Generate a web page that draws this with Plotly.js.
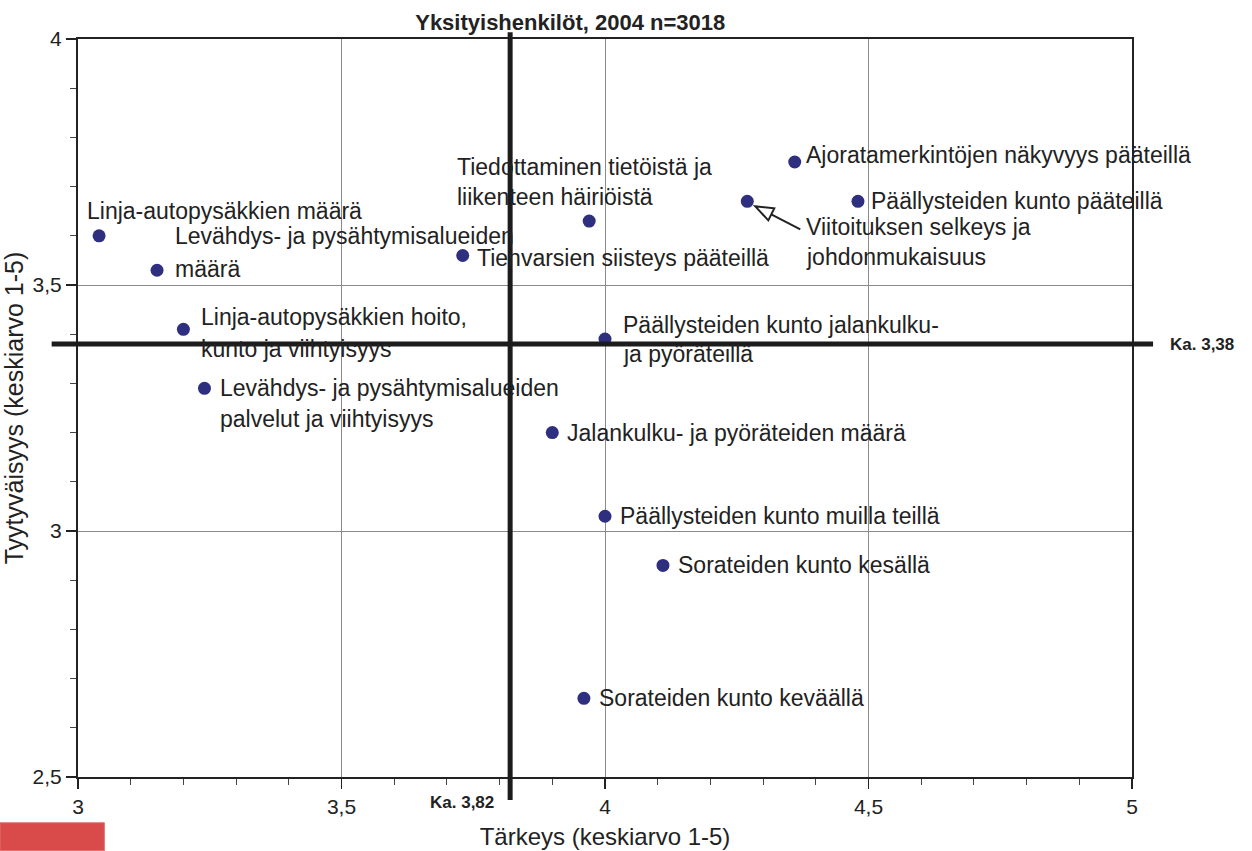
<!DOCTYPE html>
<html>
<head>
<meta charset="utf-8">
<script src="https://cdn.plot.ly/plotly-3.0.1.min.js"></script>
<style>
html,body{margin:0;padding:0;background:#fff;}
#chart{width:1252px;height:851px;}
</style>
</head>
<body>
<div id="chart"></div>
<script>
// ---- data ----
const itemLabels = [
  "Linja-autopysäkkien määrä",
  "Levähdys- ja pysähtymisalueiden\nmäärä",
  "Tienvarsien siisteys pääteillä",
  "Tiedottaminen tietöistä ja\nliikenteen häiriöistä",
  "Ajoratamerkintöjen näkyvyys pääteillä",
  "Viitoituksen selkeys ja\njohdonmukaisuus",
  "Päällysteiden kunto pääteillä",
  "Linja-autopysäkkien hoito,\nkunto ja viihtyisyys",
  "Levähdys- ja pysähtymisalueiden\npalvelut ja viihtyisyys",
  "Päällysteiden kunto jalankulku-\nja pyöräteillä",
  "Jalankulku- ja pyöräteiden määrä",
  "Päällysteiden kunto muilla teillä",
  "Sorateiden kunto kesällä",
  "Sorateiden kunto keväällä"
];
const importance   = [3.04, 3.15, 3.73, 3.97, 4.36, 4.27, 4.48, 3.20, 3.24, 4.00, 3.90, 4.00, 4.11, 3.96];
const satisfaction = [3.60, 3.53, 3.56, 3.63, 3.75, 3.67, 3.67, 3.41, 3.29, 3.39, 3.20, 3.03, 2.93, 2.66];
const meanImportance = 3.82;
const meanSatisfaction = 3.38;
const meanImportanceLabel = "Ka. 3,82";
const meanSatisfactionLabel = "Ka. 3,38";
const chartTitle = "Yksityishenkilöt, 2004 n=3018";
const xTitle = "Tärkeys (keskiarvo 1-5)";
const yTitle = "Tyytyväisyys (keskiarvo 1-5)";
const arrowItem = 5;

// ---- label placement (pixels: dx to text left, dy of first line centre, line gap) ----
const labelOffsets = [
  [-12, -25, 0], [18, -34, 33], [14, 3, 0], [-132, -54, 30], [11, -7, 0],
  [59, 26, 30], [13, 0, 0], [18, -12, 32], [16, 0, 31], [18, -14, 29],
  [15, 0, 0], [15, 0, 0], [15, 0, 0], [15, 0, 0]
];

const FONT = "Liberation Sans, Arial, sans-serif";
const TXT = "#222";

const annotations = [];
itemLabels.forEach((lab, i) => {
  const [dx, dy, gap] = labelOffsets[i];
  lab.split("\n").forEach((line, j) => {
    annotations.push({
      x: importance[i], y: satisfaction[i], xref: "x", yref: "y",
      text: line, showarrow: false, xanchor: "left", yanchor: "middle",
      xshift: dx, yshift: -(dy + j * gap), borderpad: 0, borderwidth: 0,
      font: {family: FONT, size: 23, color: TXT}
    });
  });
});
annotations.push({
  x: meanImportance, xref: "x", y: -0.034, yref: "paper",
  text: "<b>" + meanImportanceLabel + "</b>", showarrow: false,
  xanchor: "right", yanchor: "middle", xshift: -14,
  font: {family: FONT, size: 17, color: TXT}
});
annotations.push({
  x: 1.034, xref: "paper", y: meanSatisfaction, yref: "y",
  text: "<b>" + meanSatisfactionLabel + "</b>", showarrow: false,
  xanchor: "left", yanchor: "middle",
  font: {family: FONT, size: 17, color: TXT}
});

const shapes = [
  {type: "line", xref: "x", yref: "paper", x0: meanImportance, x1: meanImportance,
   y0: -0.031, y1: 1.009, line: {color: "#1c1c1c", width: 5}, layer: "above"},
  {type: "line", xref: "paper", yref: "y", x0: -0.025, x1: 1.02,
   y0: meanSatisfaction, y1: meanSatisfaction, line: {color: "#1c1c1c", width: 5}, layer: "above"},
  {type: "path", xref: "x", yref: "y", xsizemode: "pixel", ysizemode: "pixel",
   xanchor: importance[arrowItem], yanchor: satisfaction[arrowItem],
   path: "M8,-5 L21,-19 L27,-7 Z M24,-13 L53,-28",
   line: {color: "#222", width: 2}, fillcolor: "white", layer: "above"},
  {type: "rect", xref: "paper", yref: "paper", x0: -0.074, x1: 0.025, y0: -0.1, y1: -0.062,
   line: {color: "#e07070", width: 1}, fillcolor: "#d94a4a", layer: "above"}
];

const trace = {
  type: "scatter", mode: "markers",
  x: importance, y: satisfaction, text: itemLabels,
  marker: {size: 13, color: "#2f2f80", line: {width: 0}},
  hoverinfo: "text+x+y", cliponaxis: false
};

const axisCommon = {
  ticks: "outside", ticklen: 10, tickwidth: 1.5, tickcolor: "#222",
  showline: true, linecolor: "#222", linewidth: 2, mirror: true,
  showgrid: true, gridcolor: "#8a8a8a", gridwidth: 1, zeroline: false,
  tickfont: {family: FONT, size: 21, color: TXT},
  minor: {ticks: "outside", ticklen: 6, tickwidth: 1, tickcolor: "#444", showgrid: false}
};

const layout = {
  width: 1252, height: 851,
  margin: {l: 78, r: 120, t: 39, b: 74},
  paper_bgcolor: "#fff", plot_bgcolor: "#fff",
  separators: ", ",
  showlegend: false,
  font: {family: FONT, color: TXT},
  title: {text: "<b>" + chartTitle + "</b>", x: 0.467, xref: "paper", xanchor: "center",
          y: 0.974, yref: "container", yanchor: "middle",
          font: {family: FONT, size: 22, color: TXT}},
  xaxis: Object.assign({}, axisCommon, {
    range: [3, 5], tick0: 3, dtick: 0.5,
    minor: Object.assign({}, axisCommon.minor, {dtick: 0.1}),
    title: {text: xTitle, font: {family: FONT, size: 24, color: TXT}, standoff: 11}
  }),
  yaxis: Object.assign({}, axisCommon, {
    range: [2.5, 4], tick0: 2.5, dtick: 0.5,
    minor: Object.assign({}, axisCommon.minor, {dtick: 0.1}),
    title: {text: yTitle, font: {family: FONT, size: 25, color: TXT}, standoff: 5}
  }),
  annotations: annotations,
  shapes: shapes
};

Plotly.newPlot("chart", [trace], layout, {displayModeBar: false, staticPlot: true});
</script>
</body>
</html>
